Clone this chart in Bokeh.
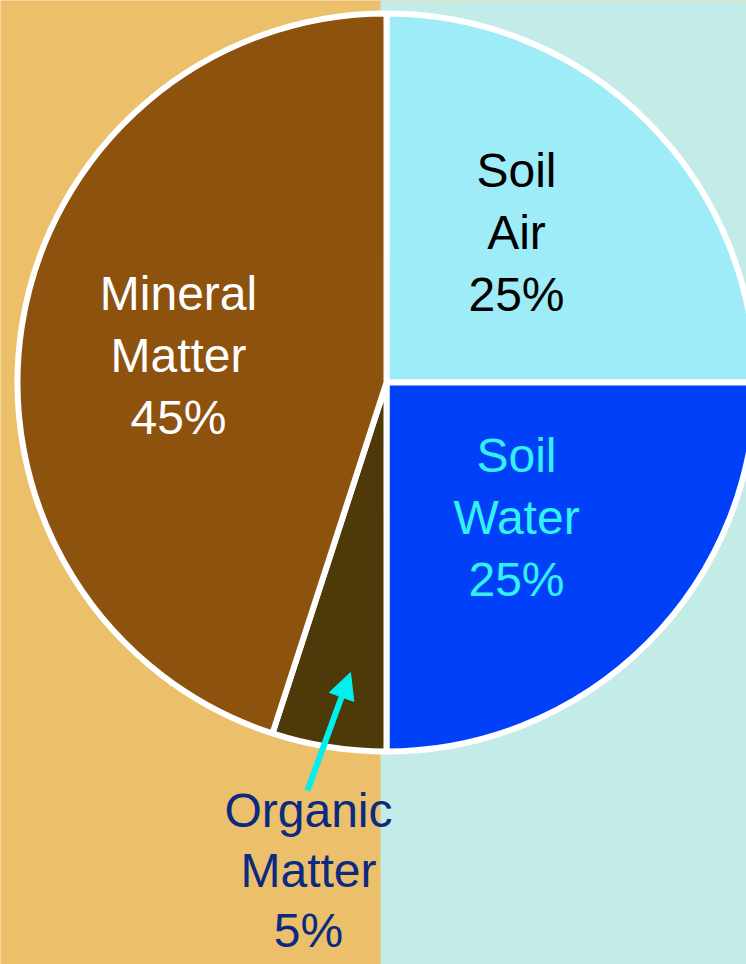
import numpy as np
from bokeh.plotting import figure
from bokeh.models import ColumnDataSource, Range1d, Arrow, NormalHead
from bokeh.core.properties import value
from bokeh.embed import file_html
from bokeh.resources import INLINE

# ---- data ----
categories = ["Soil Air", "Soil Water", "Organic Matter", "Mineral Matter"]
percents = [25, 25, 5, 45]
label_texts = ["Soil\nAir\n25%", "Soil\nWater\n25%", "Organic\nMatter\n5%", "Mineral\nMatter\n45%"]
slice_colors = ["#9EECF7", "#0040F8", "#4D3A08", "#8D520D"]
text_colors = ["#000000", "#33F0F5", "#0B2A80", "#FFFFFF"]

W, H = 746, 964
p = figure(width=W, height=H, output_backend="svg", toolbar_location=None,
           x_range=Range1d(0, W), y_range=Range1d(0, H), min_border=0)
p.axis.visible = False
p.grid.visible = False
p.outline_line_color = None
p.background_fill_color = "#ECBF6B"
p.border_fill_color = "#ECBF6B"

# background halves
p.quad(left=[0, 380], right=[380, W], bottom=[0, 0], top=[H, H],
       fill_color=["#ECBF6B", "#C3ECE8"], line_color=None)

# pie wedges, clockwise from 12 o'clock
vals = np.array(percents, dtype=float)
ang = vals / vals.sum() * 2 * np.pi
ends = np.pi / 2 - np.concatenate([[0], np.cumsum(ang)[:-1]])
starts = ends - ang
cx, cy, r = 386, 582, 369
src = ColumnDataSource(dict(cat=categories, start=starts, end=ends, color=slice_colors))
p.wedge(x=cx, y=cy, radius=r, start_angle="start", end_angle="end",
        fill_color="color", line_color="white", line_width=6, source=src)

# labels (one text per line, fixed line spacing)
font = value("'Liberation Sans', Arial, sans-serif")
lx = [516, 516, 308, 178]
ly = [732, 447, 94, 609]
steps = [62, 62, 60, 62]
xs, ys, ts, cs = [], [], [], []
for x0, y0, t, c, step in zip(lx, ly, label_texts, text_colors, steps):
    lines = t.split("\n")
    n = len(lines)
    for i, ln in enumerate(lines):
        xs.append(x0)
        ys.append(y0 + ((n - 1) / 2 - i) * step)
        ts.append(ln)
        cs.append(c)
lsrc = ColumnDataSource(dict(x=xs, y=ys, t=ts, c=cs))
p.text(x="x", y="y", text="t", text_color="c", source=lsrc,
       text_font=font, text_font_size="48px", text_align="center",
       text_baseline="middle")

# arrow to organic matter
p.add_layout(Arrow(end=NormalHead(size=26, fill_color="#00F0F0", line_color="#00F0F0"),
                   x_start=307, y_start=174, x_end=350, y_end=292,
                   line_color="#00F0F0", line_width=6))

open("out.html", "w").write(file_html(p, INLINE))
